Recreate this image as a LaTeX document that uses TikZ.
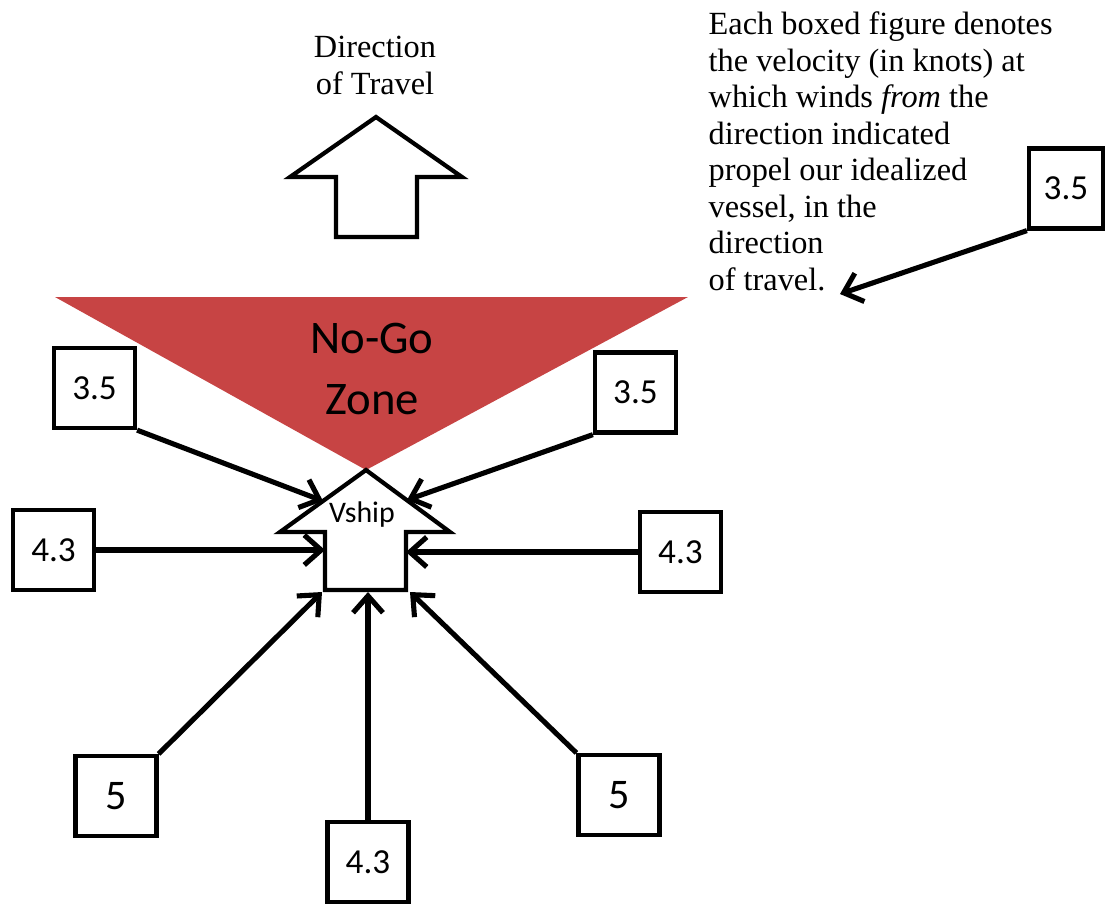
\documentclass[tikz,border=0pt]{standalone}
\usepackage{fontspec}
\setmainfont{Liberation Serif}
\newfontfamily\calibrifont{Carlito}
\usepackage{tikz}
\usetikzlibrary{arrows.meta}
\definecolor{nogored}{RGB}{199,68,68}

\begin{document}
\begin{tikzpicture}[
  speedbox/.style={draw, line width=1.2pt, minimum width=8.1mm, minimum height=8mm,
    inner sep=0pt, font=\calibrifont\fontsize{10}{12}\selectfont},
  windarrow/.style={line width=1.45pt, -{Straight Barb[length=4.8pt, width=8.5pt]}},
  blockarrow/.style={draw, line width=1.2pt, line join=miter, fill=white},
  serifnote/.style={inner sep=0pt, align=left, font=\fontsize{9.2}{10.4}\selectfont},
]
  \useasboundingbox (0,0) rectangle (11.07,-9.05);

  % No-go zone
  \fill[nogored] (0.55,-2.97) -- (6.88,-2.97) -- (3.66,-4.70) -- cycle;
  \node[font=\calibrifont\fontsize{13.3}{17.6}\selectfont, align=center] (nogo) at (3.72,-3.69) {No-Go\\Zone};

  % Direction of travel
  \node[inner sep=0pt, align=center, anchor=north, font=\fontsize{9.2}{10.7}\selectfont] (dirlabel) at (3.75,-0.35) {Direction\\of Travel};
  \draw[blockarrow] (3.76,-1.17) -- (4.62,-1.77) -- (4.17,-1.77) -- (4.17,-2.37)
    -- (3.36,-2.37) -- (3.36,-1.77) -- (2.90,-1.77) -- cycle;

  % Ship
  \draw[blockarrow] (3.66,-4.70) -- (4.50,-5.32) -- (4.06,-5.32) -- (4.06,-5.90)
    -- (3.25,-5.90) -- (3.25,-5.32) -- (2.80,-5.32) -- cycle;
  \node[font=\calibrifont\fontsize{8.5}{10}\selectfont] (vship) at (3.62,-5.15) {Vship};
  \coordinate (t35l) at (3.23,-5.01);
  \coordinate (t35r) at (4.07,-5.00);
  \coordinate (t43l) at (3.25,-5.50);
  \coordinate (t43r) at (4.06,-5.52);
  \coordinate (t5l) at (3.22,-5.92);
  \coordinate (t43b) at (3.68,-5.92);
  \coordinate (t5r) at (4.10,-5.92);

  % Speed boxes
  \node[speedbox] (b35l) at (0.945,-3.88) {3.5};
  \node[speedbox] (b35r) at (6.355,-3.925) {3.5};
  \node[speedbox] (b43l) at (0.535,-5.50) {4.3};
  \node[speedbox] (b43r) at (6.805,-5.52) {4.3};
  \node[speedbox, font=\calibrifont\fontsize{12}{14}\selectfont] (b5l) at (1.16,-7.96) {5};
  \node[speedbox, font=\calibrifont\fontsize{12}{14}\selectfont] (b5r) at (6.19,-7.95) {5};
  \node[speedbox] (b43b) at (3.68,-8.62) {4.3};

  % Wind arrows
  \draw[windarrow] (b35l.south east) -- (t35l);
  \draw[windarrow] (b35r.south west) -- (t35r);
  \draw[windarrow] (b43l.east) -- (t43l);
  \draw[windarrow] (b43r.west) -- (t43r);
  \draw[windarrow] (b5l.north east) -- (t5l);
  \draw[windarrow] (b43b.north) -- (t43b);
  \draw[windarrow] (b5r.north west) -- (t5r);

  % Note on the right
  \node[serifnote, anchor=north west] (note) at (7.08,-0.11) {Each boxed figure denotes\\the velocity (in knots) at\\which winds \textit{from} the\\direction indicated\\propel our idealized\\vessel, in the\\direction\\of travel.};
  \node[speedbox, minimum width=7.4mm] (b35t) at (10.66,-1.885) {3.5};
  \coordinate (tnote) at (8.40,-2.94);
  \draw[windarrow] (b35t.south west) -- (tnote);
\end{tikzpicture}
\end{document}
